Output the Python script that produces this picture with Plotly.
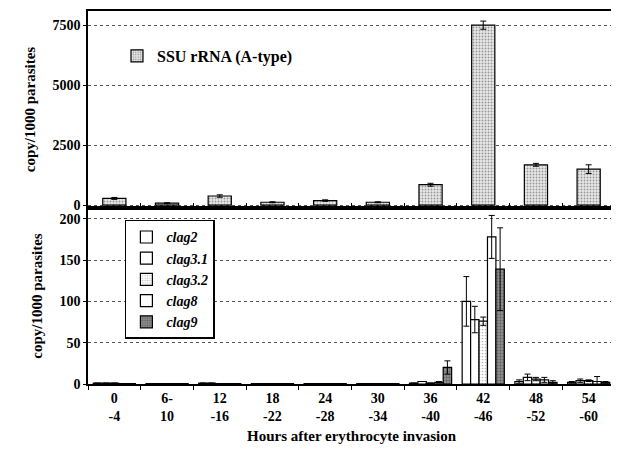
import plotly.graph_objects as go

categories = ["0<br>-4", "6-<br>10", "12<br>-16", "18<br>-22", "24<br>-28",
              "30<br>-34", "36<br>-40", "42<br>-46", "48<br>-52", "54<br>-60"]

ssu = [280, 80, 380, 120, 190, 120, 850, 7500, 1680, 1500]
ssu_err = [40, 20, 50, 20, 30, 20, 60, 170, 60, 180]

clag2 = [1, 0.5, 1, 0.5, 0.5, 0.5, 1, 100, 3, 2]
clag2_err = [0, 0, 0, 0, 0, 0, 0, 30, 2, 1]
clag3_1 = [1, 0.5, 1, 0.5, 0.5, 0.5, 3, 78, 8, 4]
clag3_1_err = [0, 0, 0, 0, 0, 0, 0, 16, 4, 2]
clag3_2 = [1, 0.5, 0.5, 0.5, 0.5, 0.5, 1, 76, 6, 4]
clag3_2_err = [0, 0, 0, 0, 0, 0, 0, 5, 2, 1]
clag8 = [0.5, 0.5, 0.5, 0.5, 0.5, 0.5, 2, 178, 5, 3]
clag8_err = [0, 0, 0, 0, 0, 0, 1, 26, 3, 6]
clag9 = [0.5, 0.5, 0.5, 0.5, 0.5, 0.5, 20, 139, 2, 2]
clag9_err = [0, 0, 0, 0, 0, 0, 8, 50, 2, 1]

FONT = "Liberation Serif"
line = dict(color="black", width=1.2)
err = lambda a: dict(type="data", array=a, color="black", thickness=1, width=3)

fig = go.Figure()

fig.add_trace(go.Bar(
    x=categories, y=ssu, error_y=err(ssu_err), name="SSU rRNA (A-type)",
    width=0.44, xaxis="x", yaxis="y", legend="legend",
    marker=dict(color="white", line=line,
                pattern=dict(shape=".", fgcolor="#444", bgcolor="#e8e8e8", size=3, solidity=0.3)),
))

series = [
    ("clag2", clag2, clag2_err, dict(color="white", line=line)),
    ("clag3.1", clag3_1, clag3_1_err, dict(color="white", line=line)),
    ("clag3.2", clag3_2, clag3_2_err, dict(color="white", line=line,
        pattern=dict(shape=".", fgcolor="#777", bgcolor="white", size=3, solidity=0.25))),
    ("clag8", clag8, clag8_err, dict(color="white", line=line)),
    ("clag9", clag9, clag9_err, dict(color="#888", line=line,
        pattern=dict(shape=".", fgcolor="#333", bgcolor="#999", size=3, solidity=0.5))),
]
for name, vals, e, mk in series:
    fig.add_trace(go.Bar(x=categories, y=vals, error_y=err(e), name=name,
                         xaxis="x2", yaxis="y2", legend="legend2", marker=mk))

# page body has an 8px default margin; figure sized to fit the 619x450 window
W, H = 611, 442
ML, MR, MT, MB = 80, 4, 3, 66
plot_h = H - MT - MB
split = (H - MB - (208 - 8)) / plot_h

axis_common = dict(showline=True, linecolor="black", linewidth=1.5, mirror=True, automargin=False,
                   tickfont=dict(family=FONT, size=14, color="black", weight="bold"))
ytitle_font = dict(family=FONT, size=15, color="black", weight="bold")

fig.update_layout(
    width=W, height=H,
    margin=dict(l=ML, r=MR, t=MT, b=MB),
    paper_bgcolor="white", plot_bgcolor="white",
    barmode="group", bargap=0.2, bargroupgap=0,
    showlegend=True,
    xaxis=dict(domain=[0, 1], anchor="y", type="category", range=[-0.5, 9.5],
               showticklabels=False, ticks="inside", tickson="boundaries", ticklen=5,
               tickcolor="black", showgrid=False, **axis_common),
    yaxis=dict(domain=[split, 1], anchor="x", range=[-120, 8090],
               tickvals=[0, 2500, 5000, 7500], ticks="outside", ticklen=3, tickcolor="black",
               showgrid=True, gridcolor="#555", griddash="dot", gridwidth=1, zeroline=False,
               title=dict(text="copy/1000 parasites", standoff=13, font=ytitle_font),
               **axis_common),
    xaxis2=dict(domain=[0, 1], anchor="y2", type="category", range=[-0.5, 9.5],
                ticks="outside", tickson="boundaries", ticklen=4, tickcolor="black",
                showgrid=False, tickangle=0,
                title=dict(text="Hours after erythrocyte invasion", standoff=8,
                           font=dict(family=FONT, size=15, color="black", weight="bold")),
                **axis_common),
    yaxis2=dict(domain=[0, split], anchor="x2", range=[0, 213],
                tickvals=[0, 50, 100, 150, 200], ticks="outside", ticklen=3, tickcolor="black",
                showgrid=True, gridcolor="#555", griddash="dot", gridwidth=1, zeroline=False,
                title=dict(text="copy/1000 parasites", standoff=13, font=ytitle_font),
                **axis_common),
    legend=dict(x=0.055, y=0.925, xanchor="left", yanchor="top", bgcolor="rgba(0,0,0,0)",
                font=dict(family=FONT, size=16, color="black", weight="bold"),
                itemwidth=30),
    legend2=dict(x=0.07, y=0.44, xanchor="left", yanchor="top", bgcolor="white",
                 bordercolor="black", borderwidth=1.5,
                 font=dict(family=FONT, size=14, color="black", weight="bold", style="italic"),
                 tracegroupgap=0, itemwidth=30),
)

fig.write_html("out.html")
